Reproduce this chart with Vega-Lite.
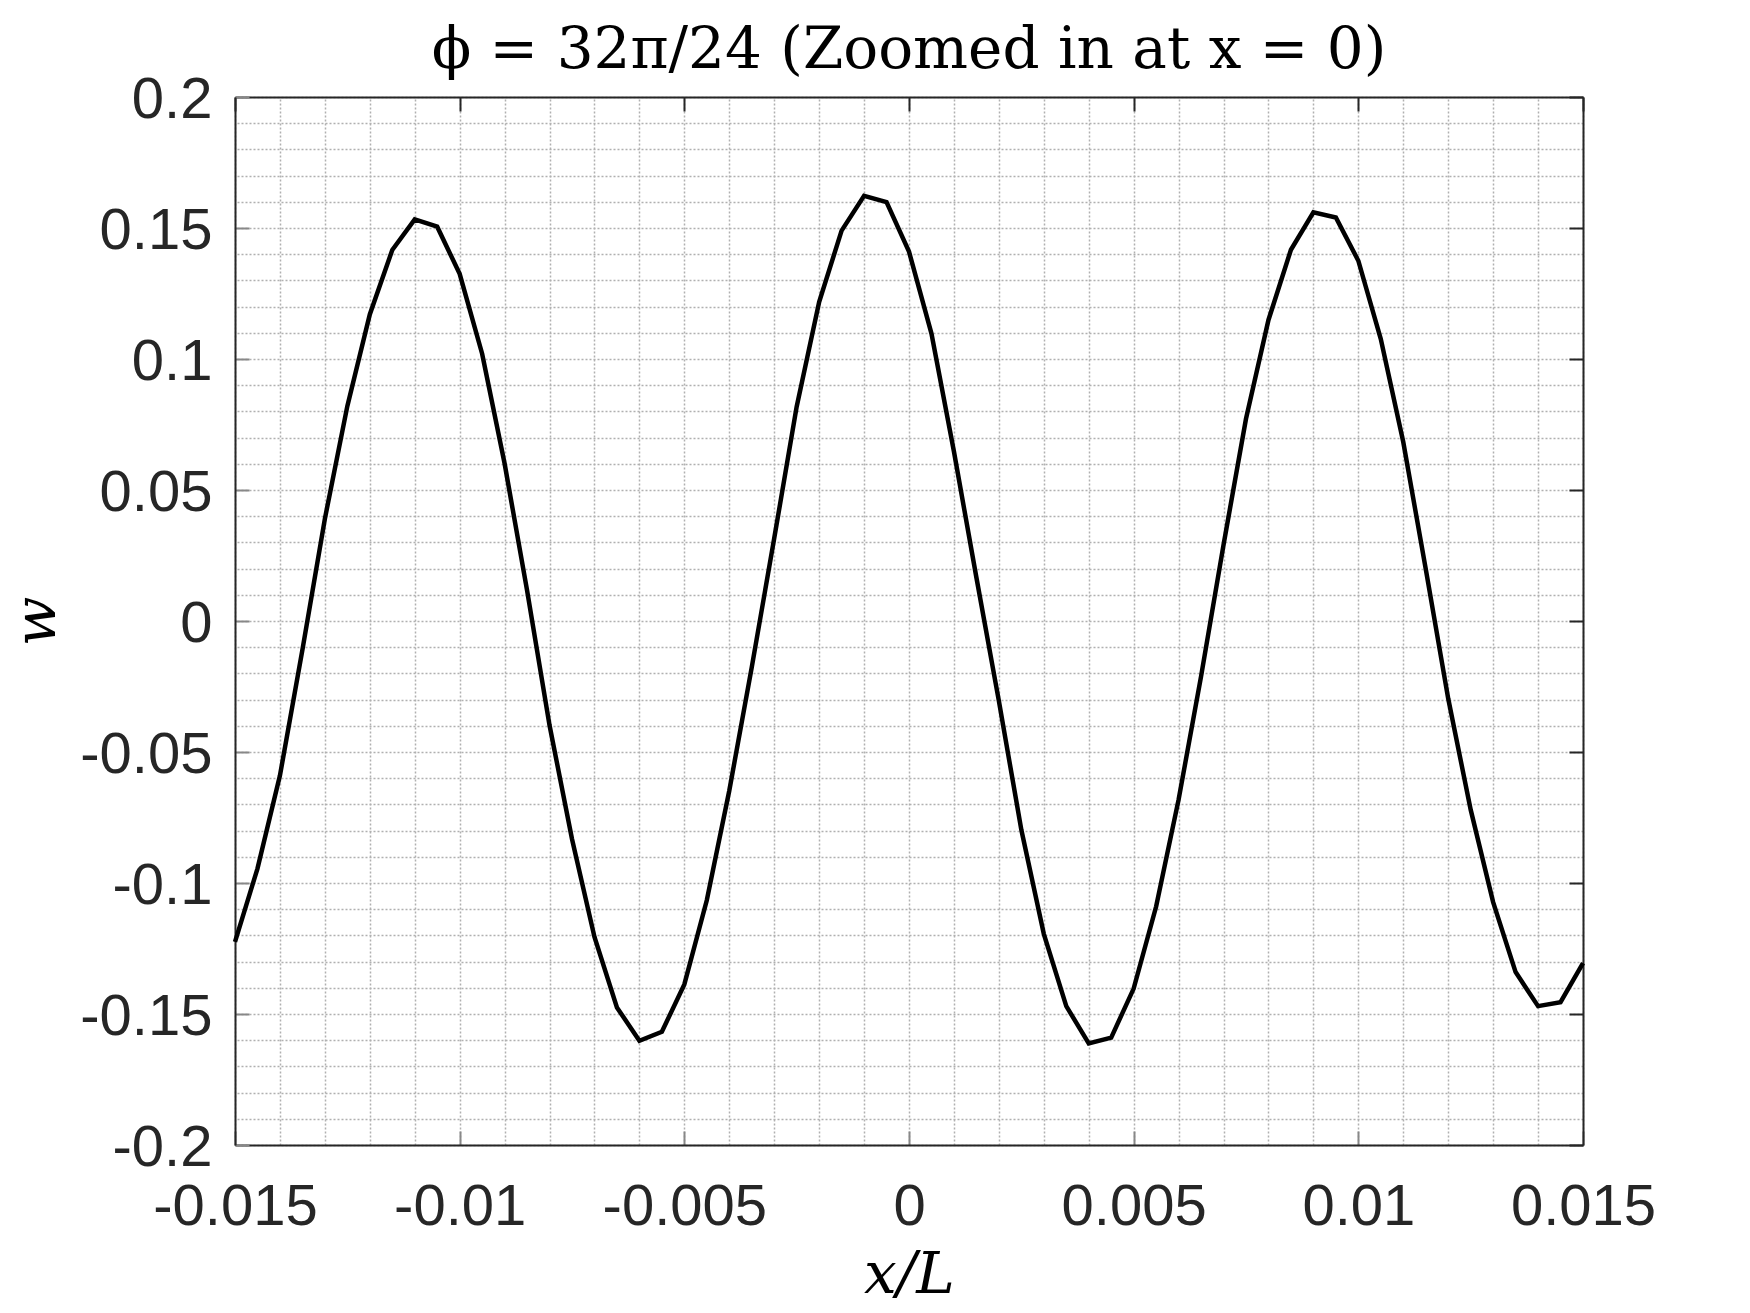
{
  "$schema": "https://vega.github.io/schema/vega-lite/v6.json",
  "autosize": "none",
  "width": 1348,
  "height": 1048,
  "padding": {"left": 235, "top": 97, "right": 167, "bottom": 168},
  "background": "white",
  "title": {
    "text": "ϕ = 32π/24 (Zoomed in at x = 0)",
    "font": "DejaVu Serif",
    "fontSize": 58,
    "fontWeight": "normal",
    "color": "black",
    "anchor": "middle",
    "baseline": "alphabetic",
    "offset": -55
  },
  "config": {
    "view": {"stroke": null},
    "axis": {
      "labelFont": "Liberation Sans",
      "labelFontSize": 58,
      "labelColor": "#262626",
      "domainColor": "#262626",
      "domainWidth": 2,
      "tickWidth": 2,
      "tickSize": -14,
      "gridColor": "#b0b0b0",
      "gridWidth": 1.5,
      "gridDash": [2, 2],
      "titleFont": "DejaVu Serif",
      "titleFontStyle": "italic",
      "titleFontWeight": "normal",
      "titleFontSize": 58,
      "titleColor": "black"
    }
  },
  "data": {
    "values": [
      {"x": -0.015, "w": -0.1225},
      {"x": -0.0145, "w": -0.0945},
      {"x": -0.014, "w": -0.059},
      {"x": -0.0135, "w": -0.011},
      {"x": -0.013, "w": 0.039},
      {"x": -0.0125, "w": 0.082},
      {"x": -0.012, "w": 0.117},
      {"x": -0.0115, "w": 0.1416},
      {"x": -0.011, "w": 0.1533},
      {"x": -0.0105, "w": 0.1505},
      {"x": -0.01, "w": 0.1325},
      {"x": -0.0095, "w": 0.102},
      {"x": -0.009, "w": 0.0601},
      {"x": -0.0085, "w": 0.0117},
      {"x": -0.008, "w": -0.0398},
      {"x": -0.0075, "w": -0.0832},
      {"x": -0.007, "w": -0.1206},
      {"x": -0.0065, "w": -0.1475},
      {"x": -0.006, "w": -0.1602},
      {"x": -0.0055, "w": -0.1568},
      {"x": -0.005, "w": -0.1387},
      {"x": -0.0045, "w": -0.1066},
      {"x": -0.004, "w": -0.0648},
      {"x": -0.0035, "w": -0.0177},
      {"x": -0.003, "w": 0.0315},
      {"x": -0.0025, "w": 0.0818},
      {"x": -0.002, "w": 0.1217},
      {"x": -0.0015, "w": 0.149},
      {"x": -0.001, "w": 0.1623},
      {"x": -0.0005, "w": 0.1599},
      {"x": 0, "w": 0.141},
      {"x": 0.0005, "w": 0.1097},
      {"x": 0.001, "w": 0.0647},
      {"x": 0.0015, "w": 0.0166},
      {"x": 0.002, "w": -0.0305},
      {"x": 0.0025, "w": -0.0797},
      {"x": 0.003, "w": -0.1194},
      {"x": 0.0035, "w": -0.147},
      {"x": 0.004, "w": -0.1612},
      {"x": 0.0045, "w": -0.159},
      {"x": 0.005, "w": -0.1403},
      {"x": 0.0055, "w": -0.109},
      {"x": 0.006, "w": -0.0682},
      {"x": 0.0065, "w": -0.0211},
      {"x": 0.007, "w": 0.0291},
      {"x": 0.0075, "w": 0.0772},
      {"x": 0.008, "w": 0.1149},
      {"x": 0.0085, "w": 0.1417},
      {"x": 0.009, "w": 0.156},
      {"x": 0.0095, "w": 0.154},
      {"x": 0.01, "w": 0.1375},
      {"x": 0.0105, "w": 0.1076},
      {"x": 0.011, "w": 0.0683},
      {"x": 0.0115, "w": 0.0199},
      {"x": 0.012, "w": -0.0296},
      {"x": 0.0125, "w": -0.072},
      {"x": 0.013, "w": -0.1073},
      {"x": 0.0135, "w": -0.134},
      {"x": 0.014, "w": -0.147},
      {"x": 0.0145, "w": -0.1455},
      {"x": 0.015, "w": -0.1306}
    ]
  },
  "layer": [
    {
      "mark": {"type": "line", "opacity": 0},
      "encoding": {
        "x": {
          "field": "x", "type": "quantitative",
          "scale": {"domain": [-0.015, 0.015], "nice": false, "zero": false},
          "axis": {
            "orient": "top",
            "values": [-0.015,-0.014,-0.013,-0.012,-0.011,-0.01,-0.009,-0.008,-0.007,-0.006,-0.005,-0.004,-0.003,-0.002,-0.001,0,0.001,0.002,0.003,0.004,0.005,0.006,0.007,0.008,0.009,0.01,0.011,0.012,0.013,0.014,0.015],
            "grid": true,
            "labels": false,
            "title": null,
            "tickColor": {"condition": {"test": "abs(datum.value*200 - round(datum.value*200)) < 0.001", "value": "#262626"}, "value": "transparent"}
          }
        },
        "y": {
          "field": "w", "type": "quantitative",
          "scale": {"domain": [-0.2, 0.2], "nice": false, "zero": false},
          "axis": {
            "orient": "right",
            "values": [-0.2,-0.19,-0.18,-0.17,-0.16,-0.15,-0.14,-0.13,-0.12,-0.11,-0.1,-0.09,-0.08,-0.07,-0.06,-0.05,-0.04,-0.03,-0.02,-0.01,0,0.01,0.02,0.03,0.04,0.05,0.06,0.07,0.08,0.09,0.1,0.11,0.12,0.13,0.14,0.15,0.16,0.17,0.18,0.19,0.2],
            "grid": true,
            "labels": false,
            "title": null,
            "tickColor": {"condition": {"test": "abs(datum.value*20 - round(datum.value*20)) < 0.001", "value": "#262626"}, "value": "transparent"}
          }
        }
      }
    },
    {
      "mark": {"type": "line", "color": "black", "strokeWidth": 4.5, "strokeJoin": "miter"},
      "encoding": {
        "x": {
          "field": "x", "type": "quantitative",
          "axis": {
            "orient": "bottom",
            "values": [-0.015, -0.01, -0.005, 0, 0.005, 0.01, 0.015],
            "grid": false,
            "labelExpr": "'' + datum.value",
            "labelPadding": 47,
            "labelBaseline": "top",
            "labelFlush": false,
            "labelOverlap": false,
            "title": "x/L",
            "titleX": 674,
            "titleY": 130,
            "titleBaseline": "middle",
            "titleAlign": "center"
          }
        },
        "y": {
          "field": "w", "type": "quantitative",
          "axis": {
            "orient": "left",
            "values": [-0.2, -0.15, -0.1, -0.05, 0, 0.05, 0.1, 0.15, 0.2],
            "grid": false,
            "labelExpr": "'' + datum.value",
            "labelPadding": 37,
            "labelBaseline": "middle",
            "labelOffset": 3,
            "labelFlush": false,
            "labelOverlap": false,
            "title": "w",
            "titleX": -198,
            "titleY": 524,
            "titleAngle": -90,
            "titleBaseline": "middle",
            "titleAlign": "center"
          }
        }
      }
    }
  ],
  "resolve": {"axis": {"x": "independent", "y": "independent"}}
}
